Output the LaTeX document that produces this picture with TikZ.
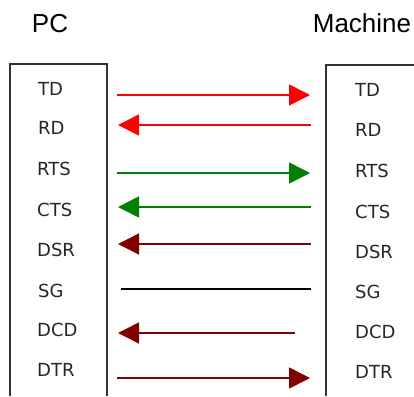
\documentclass[tikz,border=0pt]{standalone}
\usepackage{fontspec}
\setmainfont{Liberation Sans}
\newfontfamily\labfont{DejaVu Sans}
\usetikzlibrary{arrows.meta}
\definecolor{sigred}{HTML}{FF0000}
\definecolor{siggreen}{HTML}{008000}
\definecolor{sigdark}{HTML}{800000}
\begin{document}
\begin{tikzpicture}[x=1pt,y=-1pt,
  title/.style={inner sep=0pt,anchor=base,font=\fontsize{26}{26}\selectfont},
  pin/.style={inner sep=0pt,anchor=west,font=\labfont\fontsize{18}{18}\selectfont,text=black!85},
  boxline/.style={line width=1.3pt,draw=black!80},
  sig/.style={line width=1.5pt,-{Triangle[length=21pt,width=21pt]}},
  wire/.style={line width=1.6pt}]
\useasboundingbox (0,0) rectangle (414,396);
\node[title] (pc) at (50,33) {PC};
\node[title] (mach) at (362,33) {Machine};
\draw[boxline] (10,396) -- (10,64) -- (107,64) -- (107,396);
\draw[boxline] (326,396) -- (326,65) -- (414,65);
% left labels
\node[pin] (lTD) at (38,88.5) {TD};
\node[pin] (lRD) at (38,128) {RD};
\node[pin] (lRTS) at (37,169) {RTS};
\node[pin] (lCTS) at (37,210) {CTS};
\node[pin] (lDSR) at (37,249.5) {DSR};
\node[pin] (lSG) at (38,291) {SG};
\node[pin] (lDCD) at (37,330) {DCD};
\node[pin] (lDTR) at (37,370) {DTR};
% right labels
\node[pin] (rTD) at (355,90) {TD};
\node[pin] (rRD) at (355,129.5) {RD};
\node[pin] (rRTS) at (355,171) {RTS};
\node[pin] (rCTS) at (355,211.5) {CTS};
\node[pin] (rDSR) at (355,251.5) {DSR};
\node[pin] (rSG) at (355,292) {SG};
\node[pin] (rDCD) at (355,331.5) {DCD};
\node[pin] (rDTR) at (355,371.5) {DTR};
% connector end points
\coordinate (a1) at (117,95);  \coordinate (b1) at (310,95);
\coordinate (a2) at (118,125); \coordinate (b2) at (311,125);
\coordinate (a3) at (117,173); \coordinate (b3) at (310,173);
\coordinate (a4) at (118,207); \coordinate (b4) at (311,207);
\coordinate (a5) at (118,244); \coordinate (b5) at (311,244);
\coordinate (a6) at (121,289); \coordinate (b6) at (311,289);
\coordinate (a7) at (118,333); \coordinate (b7) at (295,333);
\coordinate (a8) at (117,378); \coordinate (b8) at (310,378);
\draw[sig,sigred] (a1) -- (b1);
\draw[sig,sigred] (b2) -- (a2);
\draw[sig,siggreen] (a3) -- (b3);
\draw[sig,siggreen] (b4) -- (a4);
\draw[sig,sigdark] (b5) -- (a5);
\draw[wire,black] (a6) -- (b6);
\draw[sig,sigdark] (b7) -- (a7);
\draw[sig,sigdark] (a8) -- (b8);
\end{tikzpicture}
\end{document}
